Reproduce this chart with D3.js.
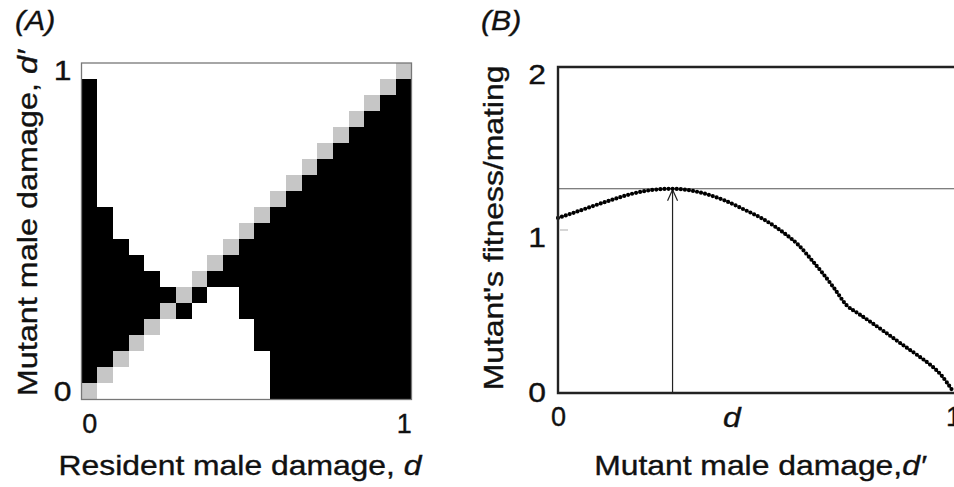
<!DOCTYPE html>
<html>
<head>
<meta charset="utf-8">
<script src="https://cdn.jsdelivr.net/npm/d3@7"></script>
<style>
  html, body { margin: 0; padding: 0; background: #fff; }
  svg { display: block; }
  text { font-family: "Liberation Sans", Arial, sans-serif; fill: #111; stroke: #111; stroke-width: 0.35px; }
</style>
</head>
<body>
<svg id="chart" width="954" height="487"></svg>
<script>
// (A) pairwise invasibility plot, resident d on x, mutant d' on y, step 0.05
// '#' mutant invades, '.' mutant dies out, '+' neutral (d' = d); first row is d' = 1
var pipRows = [
  "....................+",
  "#..................+#",
  "#.................+##",
  "#................+###",
  "#...............+####",
  "#..............+#####",
  "#.............+######",
  "#............+#######",
  "#...........+########",
  "##.........+#########",
  "##........+##########",
  "###......+###########",
  "####....+############",
  "#####..+#############",
  "######+#..###########",
  "#####+#...###########",
  "####+......##########",
  "###+.......##########",
  "##+.........#########",
  "#+..........#########",
  "+...........#########"
];
var pipTicks = [0, 1];

// (B) mutant fitness per mating against mutant damage d'
var fitD = [0, 0.04, 0.09, 0.14, 0.19, 0.24, 0.29, 0.32, 0.37, 0.42, 0.47, 0.52, 0.55,
            0.58, 0.61, 0.64, 0.67, 0.70, 0.73, 0.76, 0.79, 0.83, 0.87, 0.91, 0.94, 0.97, 1];
var fitW = [1.074, 1.106, 1.148, 1.188, 1.224, 1.246, 1.253, 1.248, 1.224, 1.183, 1.127, 1.066, 1.02,
            0.967, 0.905, 0.822, 0.735, 0.640, 0.540, 0.488, 0.438, 0.370, 0.300, 0.232, 0.178, 0.110, 0.010];
var fitTicksX = [0, 1];
var fitTicksY = [0, 1, 2];
var singularD = 0.29;   // resident value d, where fitness peaks
var peakW = 1.253;

var W = 954, H = 487;
var fontSize = 27, stretch = 1.18;
var cellColor = { "#": "#000", ".": "#fff", "+": "#c6c6c6" };

var svg = d3.select("#chart");

// text drawn wide, the way the original lettering is set
function title(parts, x, y, angle, anchor, k) {
  var t = svg.append("text")
    .attr("transform", "translate(" + x + "," + y + ") rotate(" + angle + ") scale(" + (k || stretch) + ",1)")
    .attr("text-anchor", anchor || "middle")
    .style("font-size", fontSize + "px");
  parts.forEach(function(p) {
    t.append("tspan").text(p[0]).style("font-style", p[1] ? "italic" : null);
  });
  return t;
}

function styleAxis(g, pad, left) {
  g.select(".domain").remove();
  g.selectAll("text")
    .style("font-size", fontSize + "px")
    .style("font-family", "'Liberation Sans', Arial, sans-serif")
    .attr("fill", "#111");
  if (left) {
    g.selectAll("text").attr("x", -pad / stretch).attr("transform", "scale(" + stretch + ",1)");
  }
}

// ---------- panel A ----------
var n = pipRows.length;
var step = 1 / (n - 1);
var xA = d3.scaleLinear().domain([-step / 2, 1 + step / 2]).range([81.5, 411.5]);
var yA = d3.scaleLinear().domain([-step / 2, 1 + step / 2]).range([399.5, 63]);

var cells = [];
pipRows.forEach(function(row, r) {
  row.split("").forEach(function(ch, c) {
    cells.push({ d: c * step, dm: (n - 1 - r) * step, s: ch });
  });
});

var gA = svg.append("g");
gA.selectAll("rect.cell").data(cells).enter().append("rect")
  .attr("class", "cell")
  .attr("x", function(d) { return xA(d.d - step / 2); })
  .attr("y", function(d) { return yA(d.dm + step / 2); })
  .attr("width", xA(step) - xA(0))
  .attr("height", yA(0) - yA(step))
  .attr("fill", function(d) { return cellColor[d.s]; })
  .attr("shape-rendering", "crispEdges");

gA.append("rect")
  .attr("x", xA.range()[0]).attr("y", yA.range()[1])
  .attr("width", xA.range()[1] - xA.range()[0])
  .attr("height", yA.range()[0] - yA.range()[1])
  .attr("fill", "none").attr("stroke", "#777").attr("stroke-width", 1.3);

gA.append("g")
  .attr("transform", "translate(0," + yA.range()[0] + ")")
  .call(d3.axisBottom(xA).tickValues(pipTicks).tickFormat(d3.format("d")).tickSize(0).tickPadding(14))
  .call(styleAxis, 14, false);

gA.append("g")
  .attr("transform", "translate(" + xA.range()[0] + ",0)")
  .call(d3.axisLeft(yA).tickValues(pipTicks).tickFormat(d3.format("d")).tickSize(0).tickPadding(10))
  .call(styleAxis, 10, true);

title([["(A)", true]], 15, 30, 0, "start", 1.12);
title([["Resident male damage, ", false], ["d", true]], 240, 475, 0);
title([["Mutant male damage, ", false], ["d\u2032", true]], 37, 223, -90, "middle", 1.2);

// ---------- panel B ----------
var xB = d3.scaleLinear().domain([0, 1]).range([558, 953]);
var yB = d3.scaleLinear().domain([0, 2]).range([393, 67]);
var gB = svg.append("g");

// fitness of the resident itself
gB.append("line")
  .attr("x1", xB(0)).attr("x2", W)
  .attr("y1", yB(peakW)).attr("y2", yB(peakW))
  .attr("stroke", "#555").attr("stroke-width", 1.2);

// arrow from the resident value up to the peak
var ax = xB(singularD), ay = yB(peakW);
gB.append("line")
  .attr("x1", ax).attr("x2", ax).attr("y1", yB(0)).attr("y2", ay)
  .attr("stroke", "#222").attr("stroke-width", 1.2);
gB.append("polyline")
  .attr("points", [[ax - 5, ay + 12], [ax, ay + 1], [ax + 5, ay + 12]].join(" "))
  .attr("fill", "none").attr("stroke", "#222").attr("stroke-width", 1.2);

// small inner tick at fitness 1
gB.append("line")
  .attr("x1", xB(0) + 2).attr("x2", xB(0) + 10)
  .attr("y1", yB(1)).attr("y2", yB(1))
  .attr("stroke", "#bbb").attr("stroke-width", 1.2);

var line = d3.line()
  .x(function(d) { return xB(d[0]); })
  .y(function(d) { return yB(d[1]); })
  .curve(d3.curveMonotoneX);

gB.append("path")
  .datum(d3.zip(fitD, fitW))
  .attr("d", line)
  .attr("fill", "none")
  .attr("stroke", "#000")
  .attr("stroke-width", 4.2)
  .attr("stroke-linecap", "round")
  .attr("stroke-dasharray", "0 4.1");

// frame, open on the right
gB.append("path")
  .attr("d", "M" + W + "," + yB(2) + "H" + xB(0) + "V" + yB(0) + "H" + W)
  .attr("fill", "none").attr("stroke", "#222").attr("stroke-width", 2.4);

gB.append("g")
  .attr("transform", "translate(0," + yB(0) + ")")
  .call(d3.axisBottom(xB).tickValues(fitTicksX).tickFormat(d3.format("d")).tickSize(0).tickPadding(14))
  .call(styleAxis, 14, false);

gB.append("g")
  .attr("transform", "translate(" + xB(0) + ",0)")
  .call(d3.axisLeft(yB).tickValues(fitTicksY).tickFormat(d3.format("d")).tickSize(0).tickPadding(12))
  .call(styleAxis, 12, true)
  .selectAll("text").attr("dy", function(d) { return d === 0 ? "0.32em" : "0.62em"; });

title([["d", true]], xB(0.44), 427, 0);
title([["(B)", true]], 481, 30, 0, "start", 1.12);
title([["Mutant male damage,", false], ["d\u2032", true]], 760, 475, 0);
title([["Mutant's fitness/mating", false]], 503, 228, -90);
</script>
</body>
</html>
